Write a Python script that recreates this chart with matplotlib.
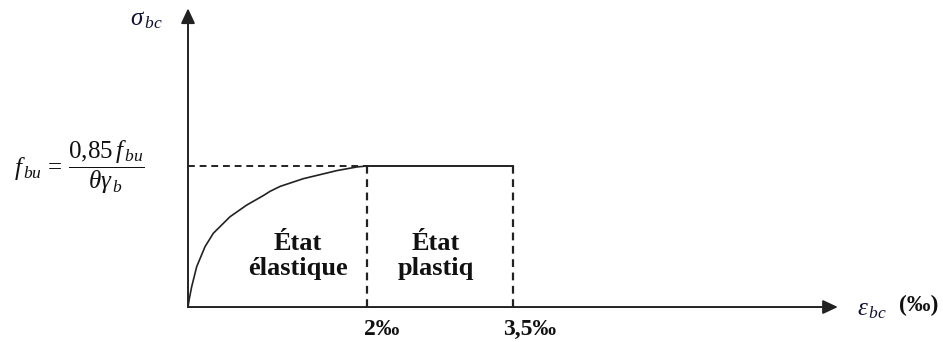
import numpy as np
import matplotlib.pyplot as plt

plt.rcParams['mathtext.fontset'] = 'custom'
plt.rcParams['mathtext.rm'] = 'Liberation Serif'
plt.rcParams['mathtext.it'] = 'Liberation Serif:italic'
plt.rcParams['mathtext.bf'] = 'Liberation Serif:bold'

# concrete stress-strain law (strain in per mille, stress relative to f_bu)
eps_curve = [0, 0.015, 0.041, 0.097, 0.19, 0.283, 0.469, 0.656, 0.841, 0.916, 1.028, 1.288, 1.661, 1.885, 2.0]
sig_curve = [0, 0.06, 0.144, 0.286, 0.428, 0.523, 0.640, 0.723, 0.79, 0.82, 0.855, 0.91, 0.967, 0.993, 1.0]
eps_plateau = [2.0, 3.5]
sig_plateau = [1.0, 1.0]
tick_values = [2.0, 3.5]
tick_labels = ['2‰', '3,5‰']
zone_top = ['État', 'État']
zone_bottom = ['élastique', 'plastiq']

# sketch is not to scale: stretch the plastic range a bit
K = 1.0875


def fwd(x):
    x = np.asarray(x, float)
    return np.where(x <= 2, x, np.where(x <= 3.5, 2 + (x - 2) * K, 2 + 1.5 * K + (x - 3.5)))


def inv(u):
    u = np.asarray(u, float)
    return np.where(u <= 2, u, np.where(u <= 2 + 1.5 * K, 2 + (u - 2) / K, 3.5 + (u - 2 - 1.5 * K)))


W, H = 943, 342
fig = plt.figure(figsize=(W / 100, H / 100), dpi=100)
ax = fig.add_axes([0, 0, 1, 1])
ax.set_xscale('function', functions=(fwd, inv))
ax.set_xlim(-2.1006, 8.3045)
ax.set_ylim(-0.248, 2.177)
ax.axis('off')

ink = '#222222'
txt = '#111111'


def px(x, y):
    # pixel position -> figure fraction
    return x / W, 1 - y / H


# axes with arrows
arrow = dict(arrowstyle='-|>,head_length=0.9,head_width=0.42', color=ink, lw=1.4,
             shrinkA=0, shrinkB=0, mutation_scale=10)
ax.annotate('', xy=(7.13, 0), xytext=(0, 0), arrowprops=arrow)
ax.annotate('', xy=(0, 2.118), xytext=(0, 0), arrowprops=arrow)

# curve and plateau
ax.plot(eps_curve, sig_curve, color=ink, lw=1.2, solid_joinstyle='round')
ax.plot(eps_plateau, sig_plateau, color=ink, lw=1.4)

# dashed guides
ax.plot([0, eps_plateau[0]], [1, 1], color=ink, lw=1.4, ls=(0, (3.5, 2.5)))
for x in tick_values:
    ax.plot([x, x], [0, 1], color=ink, lw=1.6, ls=(0, (3.5, 2.5)))

# tick labels under the strain axis
for x, lab, dx in zip(tick_values, tick_labels, [15, 17]):
    ax.annotate(lab, xy=(x, 0), xytext=(dx, -28), textcoords='offset pixels',
                ha='center', va='baseline', fontsize=17, fontweight='bold',
                family='Liberation Serif', color=txt)

# zone names
for xc, top, bottom in zip([298, 436], zone_top, zone_bottom):
    fig.text(*px(xc, 250), top, ha='center', va='baseline', fontsize=19,
             fontweight='bold', family='Liberation Serif', color=txt)
    fig.text(*px(xc, 275), bottom, ha='center', va='baseline', fontsize=19,
             fontweight='bold', family='Liberation Serif', color=txt)

# axis titles
fig.text(*px(146, 19), r'$\sigma_{\,bc}$', ha='center', va='center', fontsize=18, color='#111133')
fig.text(*px(872, 309), r'$\varepsilon_{\,bc}$', ha='center', va='center', fontsize=18, color='#111133')
fig.text(*px(919, 305), '(‰)', ha='center', va='center', fontsize=17, fontweight='bold',
         family='Liberation Serif', color=txt)

# design strength
fig.text(*px(79, 167), r'$f_{\,bu}\,=\,\dfrac{0{,}85\,f_{\,bu}}{\theta\gamma_{\,b}}$',
         ha='center', va='center', fontsize=18, color=txt)

fig.savefig('out.png', dpi=100)
